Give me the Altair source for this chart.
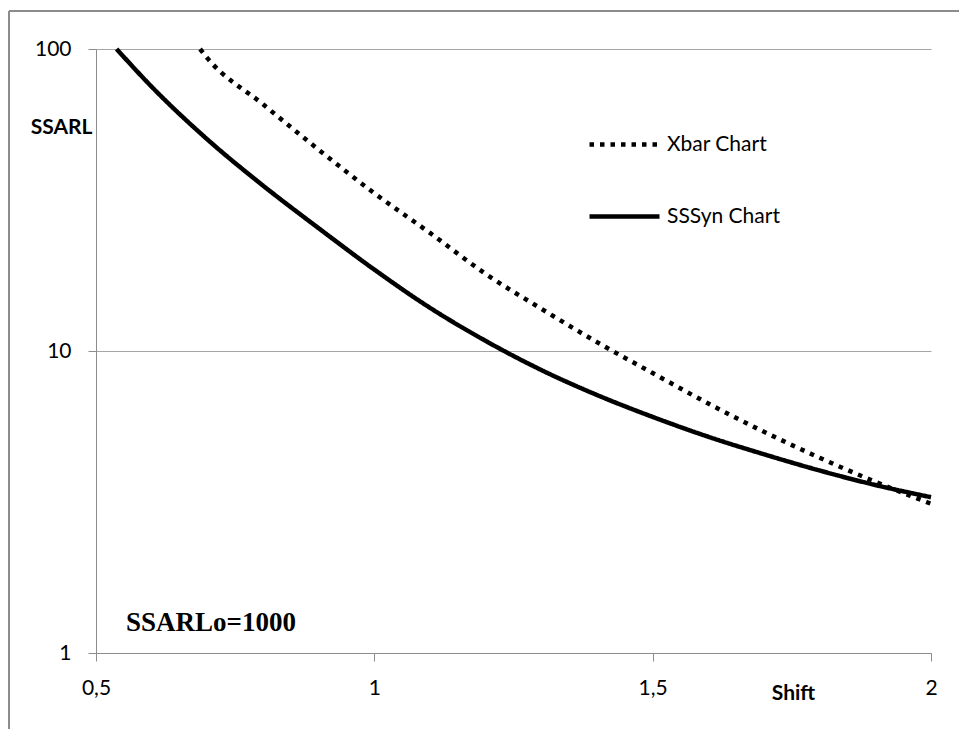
import altair as alt
import pandas as pd

# ---- data ----
sssyn_shift = [0.537, 0.6, 0.7, 0.8, 0.9, 1.0, 1.1, 1.2, 1.3, 1.4, 1.5, 1.6, 1.7, 1.8, 1.9, 2.0]
sssyn_ssarl = [100, 75, 50.2, 35.3, 25.5, 18.6, 13.9, 10.8, 8.65, 7.15, 6.05, 5.2, 4.55, 4.02, 3.6, 3.28]

xbar_shift = [0.687, 0.7, 0.8, 0.9, 1.0, 1.1, 1.2, 1.3, 1.4, 1.5, 1.6, 1.7, 1.8, 1.9, 2.0]
xbar_ssarl = [100, 93.3, 65.6, 46.4, 33.3, 24.6, 18.0, 13.8, 10.7, 8.45, 6.7, 5.4, 4.43, 3.69, 3.12]

series_names = ["Xbar Chart", "SSSyn Chart"]
x_ticks = [0.5, 1, 1.5, 2]
y_ticks = [1, 10, 100]
note_text = ["SSARLo=1000"]

rows = []
for s, v in zip(xbar_shift, xbar_ssarl):
    rows.append({"Shift": s, "SSARL": v, "Series": series_names[0]})
for s, v in zip(sssyn_shift, sssyn_ssarl):
    rows.append({"Shift": s, "SSARL": v, "Series": series_names[1]})
df = pd.DataFrame(rows)

AX = "#8c8c8c"
W, H = 835, 604
PL, PT = 96, 49

lines = alt.Chart(df).mark_line(strokeWidth=4.5, color="black", interpolate="monotone").encode(
    x=alt.X("Shift:Q",
            scale=alt.Scale(domain=[0.5, 2], nice=False, zero=False),
            axis=alt.Axis(values=x_ticks, format="~g",
                          labelExpr="replace(datum.label, '.', ',')",
                          title="Shift", titleX=697, titleY=40, titleAlign="center",
                          titleBaseline="middle", titleAnchor=None,
                          labelFlush=False, labelPadding=16, grid=False)),
    y=alt.Y("SSARL:Q",
            scale=alt.Scale(type="log", domain=[1, 100], nice=False),
            axis=alt.Axis(values=y_ticks, format="d", title="SSARL", titleAngle=0,
                          titleAlign="right", titleBaseline="middle", titleX=-4, titleY=78,
                          labelPadding=17, grid=True)),
    strokeDash=alt.StrokeDash("Series:N",
                              scale=alt.Scale(domain=series_names, range=[[4.5, 6], [1, 0]]),
                              legend=alt.Legend(title=None, orient="none", legendX=491, legendY=58,
                                                symbolType="stroke", symbolSize=4900,
                                                symbolStrokeWidth=4.5, symbolStrokeColor="black",
                                                labelFont="Lato", labelFontSize=21, labelColor="black",
                                                labelOffset=5, rowPadding=24, padding=0)),
    order=alt.Order("Shift:Q"),
)

note = alt.Chart(pd.DataFrame({"t": note_text})).mark_text(
    font="Liberation Serif", fontWeight="bold", fontSize=27, align="left", baseline="middle", color="black"
).encode(x=alt.value(30), y=alt.value(574), text="t:N")

frame_df = pd.DataFrame({"a": [0]})
frame_top = alt.Chart(frame_df).mark_rule(color=AX, strokeWidth=2).encode(
    x=alt.value(9 - PL), x2=alt.value(959 - PL), y=alt.value(11 - PT))
frame_left = alt.Chart(frame_df).mark_rule(color=AX, strokeWidth=2).encode(
    x=alt.value(9 - PL), y=alt.value(11 - PT), y2=alt.value(729 - PT))

chart = alt.layer(lines, note, frame_top, frame_left).properties(
    width=W, height=H,
    autosize=alt.AutoSizeParams(type="none"),
    padding={"left": PL, "top": PT, "right": 959 - PL - W, "bottom": 729 - PT - H},
    background="white",
).configure_view(stroke=None).configure_axis(
    labelFont="Lato", labelFontSize=21, labelColor="black",
    titleFont="Lato", titleFontSize=21, titleFontWeight="bold", titleColor="black",
    domainColor=AX, domainWidth=1, tickColor=AX, tickSize=8, tickWidth=1,
    gridColor="#a6a6a6", gridWidth=1,
)

chart.save("out.html", embed_options={"renderer": "svg", "actions": False})
